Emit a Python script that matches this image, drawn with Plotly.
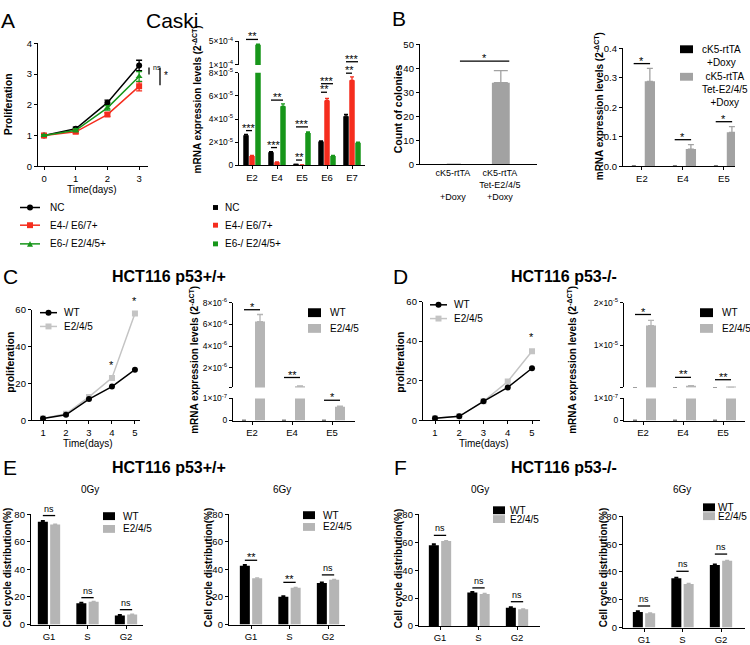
import plotly.graph_objects as go

W, H = 750, 645
FONT = "Liberation Sans, Arial, sans-serif"
RED = "#f52d1e"
GREEN = "#17961a"
GREY = "#b5b5b5"
GREY_B = "#a2a2a2"
LINE_GREY = "#c4c4c4"

# ---------------- values ----------------
# A: Caski proliferation
days_a = [0, 1, 2, 3]
prolif_nc = [1.0, 1.22, 2.07, 3.28]
prolif_nc_err = [0.03, 0.05, 0.08, 0.17]
prolif_e4 = [1.0, 1.12, 1.68, 2.6]
prolif_e4_err = [0.03, 0.05, 0.06, 0.15]
prolif_e6 = [1.0, 1.17, 1.9, 2.92]
prolif_e6_err = [0.03, 0.05, 0.07, 0.16]

# A: Caski mRNA expression
genes_a = ["E2", "E4", "E5", "E6", "E7"]
mrna_nc = [2.6e-5, 1.12e-5, 0.06e-5, 2.05e-5, 4.25e-5]
mrna_nc_err = [0.06e-5, 0.06e-5, 0.02e-5, 0.05e-5, 0.15e-5]
mrna_e4 = [0.8e-5, 0.25e-5, 0.02e-5, 5.6e-5, 7.35e-5]
mrna_e4_err = [0.05e-5, 0.04e-5, 0.01e-5, 0.18e-5, 0.3e-5]
mrna_e6 = [4.45e-4, 5.1e-5, 2.8e-5, 0.8e-5, 1.95e-5]
mrna_e6_err = [0.08e-4, 0.22e-5, 0.08e-5, 0.05e-5, 0.05e-5]
# gene index, series a, series b, height, label
sig_a = [
    (0, 0, 1, 3.0e-5, "***"), (0, 0, 2, 5.33e-4, "**"),
    (1, 0, 1, 1.53e-5, "***"), (1, 0, 2, 5.64e-5, "**"),
    (2, 0, 1, 0.45e-5, "**"), (2, 0, 2, 3.32e-5, "***"),
    (3, 0, 1, 6.32e-5, "**"), (3, 0, 2, 7.06e-5, "***"),
    (4, 0, 1, 7.97e-5, "**"), (4, 0, 2, 1.55e-4, "***"),
]

# B: colonies and mRNA
colony_groups = ["cK5-rtTA<br><br>+Doxy", "cK5-rtTA<br>Tet-E2/4/5<br>+Doxy"]
colony_count = [0, 34]
colony_err = [0, 5]
colony_sig = 43
genes_b = ["E2", "E4", "E5"]
mrna_b_ctrl = [0, 0, 0]
mrna_b_tet = [0.288, 0.058, 0.115]
mrna_b_tet_err = [0.044, 0.015, 0.019]
sig_b = [0.348, 0.09, 0.151]
sig_b_lab = ["*", "*", "*"]

# C: HCT116 p53+/+
days_c = [1, 2, 3, 4, 5]
prolif_wt_c = [1, 3, 11.5, 18.3, 27.5]
prolif_e_c = [1, 3.5, 12.7, 23, 58]
stars_c = [(4, 30), (5, 65)]
genes_c = ["E2", "E4", "E5"]
mrna_wt_c = [0, 0, 0]
mrna_e_c = [6.25e-6, 3.0e-7, 6.2e-8]
mrna_e_c_err = [0.65e-6, 0.02e-6, 0.3e-8]
sig_c = [7.34e-6, 1.1e-6, 0.92e-7]
sig_c_lab = ["*", "**", "*"]

# D: HCT116 p53-/-
prolif_wt_d = [1, 2, 9.6, 16.6, 26.3]
prolif_e_d = [1, 2, 9.6, 19.6, 34.9]
stars_d = [(5, 42)]
mrna_wt_d = [0, 0, 0]
mrna_e_d = [1.46e-5, 5e-7, 1.05e-7]
mrna_e_d_err = [0.12e-5, 0.02e-6, 0]
sig_d = [1.72e-5, 0.245e-5, 0.19e-5]
sig_d_lab = ["*", "**", "**"]

# E / F: cell cycle distribution (%)
phases = ["G1", "S", "G2"]
cc_e0_wt = [74.5, 15.5, 6.5]
cc_e0_e = [72.5, 16.5, 7.3]
cc_e0_sig = [79, 19.5, 10.8]
cc_e0_lab = ["ns", "ns", "ns"]
cc_e6_wt = [42.6, 20.2, 30.1]
cc_e6_e = [33.6, 26.6, 32.5]
cc_e6_sig = [46.6, 30.6, 36]
cc_e6_lab = ["**", "**", "ns"]
cc_f0_wt = [58, 24, 13]
cc_f0_e = [61, 23, 12]
cc_f0_sig = [65, 27.3, 17.4]
cc_f0_lab = ["ns", "ns", "ns"]
cc_f6_wt = [11.2, 35.5, 45]
cc_f6_e = [10.2, 31.4, 48]
cc_f6_sig = [15.5, 40.5, 52.9]
cc_f6_lab = ["ns", "ns", "ns"]
cc_err = [0.8, 0.6, 0.6]

fig = go.Figure()
axes = {}
shapes = []
annots = []
SUP_FONT = dict(size=8.5, color="black", family=FONT)


def add_axes(name, x0, x1, top, bottom, xr, yr, xkw=None, ykw=None):
    n = len(axes) + 1
    sfx = "" if n == 1 else str(n)
    base = dict(showline=True, linecolor="black", linewidth=1.3, ticks="outside",
                ticklen=3, tickwidth=1.3, tickcolor="black", showgrid=False,
                zeroline=False, tickfont=dict(size=9.5, color="black", family=FONT))
    xa = dict(base, domain=[x0 / W, x1 / W], range=xr, anchor="y" + sfx)
    ya = dict(base, domain=[1 - bottom / H, 1 - top / H], range=yr, anchor="x" + sfx)
    xa.update(xkw or {})
    ya.update(ykw or {})
    fig.update_layout(**{"xaxis" + sfx: xa, "yaxis" + sfx: ya})
    axes[name] = dict(x="x" + sfx, y="y" + sfx, x0=x0, x1=x1, top=top,
                      bottom=bottom, xr=xr, yr=yr)
    return axes[name]


def px(a, v):
    return a["x0"] + (v - a["xr"][0]) / (a["xr"][1] - a["xr"][0]) * (a["x1"] - a["x0"])


def py(a, v):
    return a["bottom"] - (v - a["yr"][0]) / (a["yr"][1] - a["yr"][0]) * (a["bottom"] - a["top"])


def text(x, y, t, size=10, bold=False, xanchor="center", yanchor="middle", angle=0):
    if bold:
        t = "<b>" + t + "</b>"
    annots.append(dict(x=x / W, y=1 - y / H, xref="paper", yref="paper", text=t,
                       showarrow=False, xanchor=xanchor, yanchor=yanchor,
                       textangle=angle, font=dict(size=size, color="black", family=FONT)))


def seg(x0, y0, x1, y1, color="black", w=1.3):
    shapes.append(dict(type="line", xref="paper", yref="paper", x0=x0 / W, x1=x1 / W,
                       y0=1 - y0 / H, y1=1 - y1 / H, line=dict(color=color, width=w)))


def sig(a, xa, xb, yv, label):
    yy = py(a, yv)
    seg(px(a, xa), yy, px(a, xb), yy)
    off = 3 if "*" in label else 7
    text((px(a, xa) + px(a, xb)) / 2, yy - off, label, size=11 if "*" in label else 9)


def bars(a, xs, ys, err, color, width, offset, cap=2):
    fig.add_trace(go.Bar(
        x=xs, y=ys, width=width, offset=offset, xaxis=a["x"], yaxis=a["y"],
        marker=dict(color=color, line=dict(width=0)), showlegend=False,
        error_y=dict(type="data", array=err, arrayminus=[0] * len(err), symmetric=False,
                     color=color if isinstance(color, str) else GREY_B,
                     thickness=1.3, width=cap)))


def line(a, xs, ys, err, color, symbol):
    fig.add_trace(go.Scatter(
        x=xs, y=ys, mode="lines+markers", xaxis=a["x"], yaxis=a["y"], showlegend=False,
        line=dict(color=color, width=1.5), marker=dict(color=color, symbol=symbol, size=6),
        error_y=dict(type="data", array=err, color=color, thickness=1.3, width=3,
                     visible=err is not None)))


def leg_box(x, y, color, label, w=12, h=8, tx=None):
    shapes.append(dict(type="rect", xref="paper", yref="paper", x0=x / W, x1=(x + w) / W,
                       y0=1 - (y + h / 2) / H, y1=1 - (y - h / 2) / H,
                       fillcolor=color, line=dict(width=0)))
    tx = tx if tx else x + w + 6
    if "<br>" in label:
        text(tx, y - 7.5, label, size=10, xanchor="left", yanchor="top")
    else:
        text(tx, y, label, size=10, xanchor="left")


def leg_line(x0, x1, y, color, symbol, label, tx):
    seg(x0, y, x1, y, color, 1.5)
    cx, r = (x0 + x1) / 2, 3
    if symbol == "circle":
        shapes.append(dict(type="circle", xref="paper", yref="paper", x0=(cx - r) / W,
                           x1=(cx + r) / W, y0=1 - (y + r) / H, y1=1 - (y - r) / H,
                           fillcolor=color, line=dict(width=0)))
    elif symbol == "square":
        shapes.append(dict(type="rect", xref="paper", yref="paper", x0=(cx - r) / W,
                           x1=(cx + r) / W, y0=1 - (y + r) / H, y1=1 - (y - r) / H,
                           fillcolor=color, line=dict(width=0)))
    else:
        p = "M %f,%f L %f,%f L %f,%f Z" % ((cx - r) / W, 1 - (y + r) / H, (cx + r) / W,
                                          1 - (y + r) / H, cx / W, 1 - (y - r) / H)
        shapes.append(dict(type="path", xref="paper", yref="paper", path=p,
                           fillcolor=color, line=dict(width=0)))
    text(tx, y, label, size=10, xanchor="left")


def sup_ticks(vals, mant, exp):
    return [("%d×10<sup>%d</sup>" % (m, e)) if m else ("0" if v == 0 else " ")
            for v, m, e in zip(vals, mant, exp)]


# ---------------- A: proliferation ----------------
a = add_axes("a_pro", 38, 148, 38, 163, [-0.19, 3.28], [0, 4],
             dict(tickvals=days_a), dict(tickvals=[0, 1, 2, 3, 4]))
line(a, days_a, prolif_nc, prolif_nc_err, "black", "circle")
line(a, days_a, prolif_e4, prolif_e4_err, RED, "square")
line(a, days_a, prolif_e6, prolif_e6_err, GREEN, "triangle-up")
seg(149, py(a, prolif_nc[3]) + 2, 149, py(a, prolif_e6[3]) - 2)
text(151, py(a, 3.2), "ns", size=7, xanchor="left")
seg(160, py(a, prolif_nc[3]) + 2, 160, py(a, prolif_e4[3]) - 1)
text(162, py(a, 2.95), "*", size=10, xanchor="left")
text(8, 100, "Proliferation", size=10.5, bold=True, angle=-90)
text(92, 187, "Time(days)", size=10)
leg_line(20, 40, 205, "black", "circle", "NC", 48)
leg_line(20, 40, 223, RED, "square", "E4-/ E6/7+", 48)
leg_line(20, 40, 242, GREEN, "triangle", "E6-/ E2/4/5+", 48)

# ---------------- A: mRNA (broken axis) ----------------
xi_a = list(range(len(genes_a)))
top_a = add_axes("a_top", 239, 365, 36, 60, [-0.52, 4.52], [1e-4, 5e-4],
                 dict(visible=False),
                 dict(tickvals=[1e-4, 5e-4], ticktext=sup_ticks([1e-4, 5e-4], [1, 5], [-4, -4]),
                      tickfont=SUP_FONT))
bot_a = add_axes("a_bot", 239, 365, 68, 162, [-0.52, 4.52], [0, 8e-5],
                 dict(tickvals=xi_a, ticktext=genes_a),
                 dict(tickvals=[0, 2e-5, 4e-5, 6e-5, 8e-5],
                      ticktext=sup_ticks([0, 2e-5, 4e-5, 6e-5, 8e-5], [0, 2, 4, 6, 8], [0, -5, -5, -5, -5]),
                      tickfont=SUP_FONT))
offs_a = [-0.35, -0.11, 0.13]
for ax in (top_a, bot_a):
    bars(ax, xi_a, mrna_nc, mrna_nc_err, "black", 0.22, offs_a[0])
    bars(ax, xi_a, mrna_e4, mrna_e4_err, RED, 0.22, offs_a[1])
    bars(ax, xi_a, mrna_e6, mrna_e6_err, GREEN, 0.22, offs_a[2])
for g, s0, s1, h, lab in sig_a:
    ax = top_a if h > bot_a["yr"][1] else bot_a
    sig(ax, g + offs_a[s0] + 0.11, g + offs_a[s1] + 0.11, h, lab)
text(197, 95, "mRNA expression levels (2<sup>-ΔCT</sup>)", size=10, bold=True, angle=-90)
leg_box(213, 205, "black", "NC", w=5, h=5, tx=223)
leg_box(213, 223, RED, "E4-/ E6/7+", w=5, h=5, tx=223)
leg_box(213, 242, GREEN, "E6-/ E2/4/5+", w=5, h=5, tx=223)

# ---------------- B: colonies ----------------
b = add_axes("b_col", 420, 537, 39, 161, [-0.70, 1.79], [0, 50],
             dict(tickvals=[0, 1], ticktext=colony_groups, ticks="",
                  tickfont=dict(size=9, color="black", family=FONT)),
             dict(tickvals=[0, 10, 20, 30, 40, 50]))
bars(b, [0, 1], colony_count, colony_err, ["black", GREY_B], 0.38, -0.17, cap=7)
sig(b, 0.15, 1.2, colony_sig, "*")
text(398, 104, "Count of colonies", size=10.5, bold=True, angle=-90)

# ---------------- B: mRNA ----------------
xi_b = list(range(len(genes_b)))
b2 = add_axes("b_mrna", 623, 735, 43, 163, [-0.46, 2.27], [0, 0.4],
              dict(tickvals=xi_b, ticktext=genes_b),
              dict(tickvals=[0, 0.1, 0.2, 0.3, 0.4], tickformat=".1f"))
bars(b2, xi_b, mrna_b_ctrl, [0, 0, 0], "black", 0.25, -0.32)
bars(b2, xi_b, mrna_b_tet, mrna_b_tet_err, GREY_B, 0.25, 0.07, cap=3)
for i, (h, lab) in enumerate(zip(sig_b, sig_b_lab)):
    sig(b2, i - 0.2, i + 0.2, h, lab)
text(599, 102, "mRNA expression levels (2<sup>-ΔCT</sup>)", size=10, bold=True, angle=-90)
leg_box(680, 44, "black", "cK5-rtTA<br>+Doxy", w=13, h=8, tx=700)
leg_box(680, 72, GREY_B, "cK5-rtTA<br>Tet-E2/4/5<br>+Doxy", w=13, h=8, tx=700)

# ---------------- C / D: proliferation ----------------
for key, x0, x1, top, xr, wt, ee, stars, lx, ly, ylab_x in [
    ("c_pro", 32, 140, 309, [0.52, 5.22], prolif_wt_c, prolif_e_c, stars_c, 40, 312, 10),
    ("d_pro", 423, 540, 300.7, [0.505, 5.33], prolif_wt_d, prolif_e_d, stars_d, 430, 304, 400),
]:
    ax = add_axes(key, x0, x1, top, 421.5, xr, [0, 60],
                  dict(tickvals=days_c), dict(tickvals=[0, 20, 40, 60]))
    line(ax, days_c, ee, None, LINE_GREY, "square")
    line(ax, days_c, wt, None, "black", "circle")
    for d, h in stars:
        text(px(ax, d), py(ax, h), "*", size=11)
    text(ylab_x, 363, "proliferation", size=10.5, bold=True, angle=-90)
    text((x0 + x1) / 2 + 2, 445, "Time(days)", size=10)
    leg_line(lx, lx + 17, ly, "black", "circle", "WT", lx + 22)
    leg_line(lx, lx + 17, ly + 14, LINE_GREY, "square", "E2/4/5", lx + 22)

# ---------------- C / D: mRNA (broken axis) ----------------
xi_c = list(range(len(genes_c)))
for key, x0, x1, top_rng, tvals, tm, te, wt, ee, err, sg, sl, ylx, legx in [
    ("c", 233, 355, [1.9e-7, 8e-6], [1.9e-7, 2e-6, 4e-6, 6e-6, 8e-6], [0, 2, 4, 6, 8],
     [0, -6, -6, -6, -6], mrna_wt_c, mrna_e_c, mrna_e_c_err, sig_c, sig_c_lab, 194, 308),
    ("d", 624, 745, [1e-7, 2e-5], [1e-7, 1e-5, 2e-5], [0, 1, 2], [0, -5, -5],
     mrna_wt_d, mrna_e_d, mrna_e_d_err, sig_d, sig_d_lab, 572, 700),
]:
    xr = [-0.475, (x1 - x0) / 40 - 0.475]
    t_ax = add_axes(key + "_top", x0, x1, 301.7, 388, xr, top_rng, dict(visible=False),
                    dict(tickvals=tvals, ticktext=sup_ticks(tvals, tm, te), tickfont=SUP_FONT))
    b_ax = add_axes(key + "_bot", x0, x1, 399.3, 421.7, xr, [0, 1e-7],
                    dict(tickvals=xi_c, ticktext=genes_c),
                    dict(tickvals=[0, 1e-7], ticktext=["0", "1×10<sup>-7</sup>"], tickfont=SUP_FONT))
    for ax in (t_ax, b_ax):
        bars(ax, xi_c, wt, [0, 0, 0], "black", 0.25, -0.325)
        bars(ax, xi_c, ee, err, GREY, 0.25, 0.075, cap=3)
    for i, (h, lab) in enumerate(zip(sg, sl)):
        ax = t_ax if h > b_ax["yr"][1] else b_ax
        sig(ax, i - 0.2, i + 0.2, h, lab)
    text(ylx, 360, "mRNA expression levels (2<sup>-ΔCT</sup>)", size=10, bold=True, angle=-90)
    leg_box(legx, 312, "black", "WT", w=13, h=9, tx=legx + 20)
    leg_box(legx, 328, GREY, "E2/4/5", w=13, h=9, tx=legx + 20)

# ---------------- E / F: cell cycle ----------------
xi_p = list(range(len(phases)))
for key, x0, x1, top, bottom, g1x, wt, ee, sg, sl, ylx, ttl, lgx, lgy, lgd, lgt in [
    ("e0", 31, 143, 517, 629.3, 49, cc_e0_wt, cc_e0_e, cc_e0_sig, cc_e0_lab, 7, (90, "0Gy"), 103, 519, 13, 121),
    ("e6", 229, 345, 517, 629.3, 251, cc_e6_wt, cc_e6_e, cc_e6_sig, cc_e6_lab, 208, (282, "6Gy"), 303, 518, 12, 321),
    ("f0", 419, 540, 517.3, 630.7, 440, cc_f0_wt, cc_f0_e, cc_f0_sig, cc_f0_lab, 398, (480, "0Gy"), 493, 513, 9, 508),
    ("f6", 623, 745, 519.3, 632.3, 644, cc_f6_wt, cc_f6_e, cc_f6_sig, cc_f6_lab, 603, (682, "6Gy"), 703, 510, 9, 716),
]:
    xr = [(x0 - g1x) / 38.5, (x1 - g1x) / 38.5]
    ax = add_axes(key, x0, x1, top, bottom, xr, [0, 80],
                  dict(tickvals=xi_p, ticktext=phases), dict(tickvals=[0, 20, 40, 60, 80]))
    bars(ax, xi_p, wt, cc_err, "black", 0.26, -0.29)
    bars(ax, xi_p, ee, [0.3, 0.3, 0.3], GREY, 0.26, 0.03)
    for i, (h, lab) in enumerate(zip(sg, sl)):
        sig(ax, i - 0.16, i + 0.16, h, lab)
    text(ylx, 572, "Cell cycle distribution(%)", size=10, bold=True, angle=-90)
    text(ttl[0], 492, ttl[1], size=10)
    leg_box(lgx, lgy, "black", "WT", w=12, h=8, tx=lgt)
    leg_box(lgx, lgy + lgd, GREY, "E2/4/5", w=12, h=8, tx=lgt)

# ---------------- panel letters and titles ----------------
text(8, 15, "A", size=21)
text(172, 15, "Caski", size=21)
text(399, 13, "B", size=21)
text(10, 275, "C", size=21)
text(169, 275, "HCT116 p53+/+", size=16, bold=True)
text(401, 275, "D", size=21)
text(564, 275, "HCT116 p53-/-", size=16, bold=True)
text(10, 470, "E", size=21)
text(169, 470, "HCT116 p53+/+", size=16, bold=True)
text(400, 470, "F", size=21)
text(564, 470, "HCT116 p53-/-", size=16, bold=True)

fig.update_layout(
    width=W, height=H, margin=dict(l=0, r=0, t=0, b=0),
    paper_bgcolor="white", plot_bgcolor="white", showlegend=False,
    barmode="overlay", font=dict(family=FONT, color="black"),
    shapes=shapes, annotations=annots,
)
# page body has a default 8px margin; drop it so the figure sits at the corner
fig.write_html("out.html", config={"displayModeBar": False},
               post_script="document.body.style.margin='0';")
